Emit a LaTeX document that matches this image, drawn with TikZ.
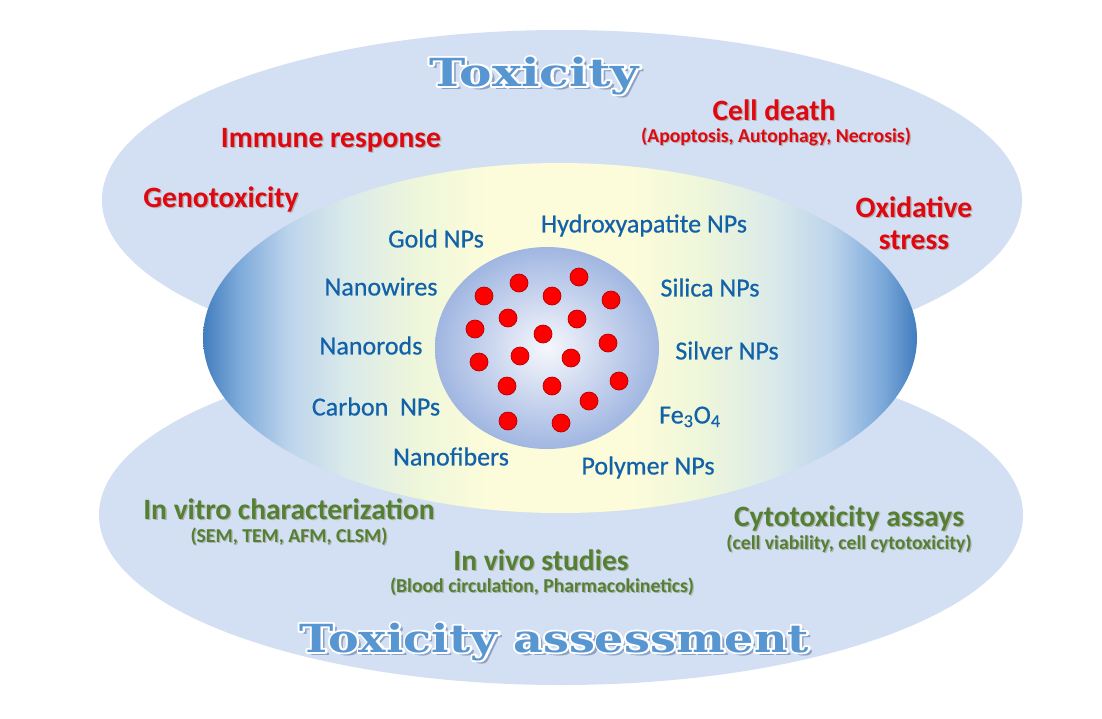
\documentclass[tikz,border=0pt]{standalone}
\usepackage{fontspec}
\setmainfont{Carlito}
\newfontfamily\titrefont{DejaVu Serif}
\newfontfamily\nanofont{Carlito}[FakeBold=0.6]
\usepackage{graphicx}

\definecolor{fondbleu}{RGB}{211,223,242}
\definecolor{rouge}{RGB}{224,8,16}
\definecolor{vert}{RGB}{84,128,52}
\definecolor{bleutxt}{RGB}{18,98,170}
\definecolor{bleutitre}{RGB}{88,150,210}
\definecolor{ombretitre}{RGB}{140,162,196}
\definecolor{lensA}{RGB}{66,125,190}
\definecolor{lensB}{RGB}{125,170,218}
\definecolor{lensC}{RGB}{188,212,236}
\definecolor{lensD}{RGB}{218,234,234}
\definecolor{lensE}{RGB}{238,246,218}
\definecolor{lensF}{RGB}{252,252,218}
\definecolor{boulein}{RGB}{246,247,252}
\definecolor{bouleout}{RGB}{160,182,225}

\pgfdeclarehorizontalshading{lentille}{100bp}{color(0bp)=(lensA); color(25bp)=(lensA); color(27.5bp)=(lensB); color(31bp)=(lensC); color(35bp)=(lensD); color(40bp)=(lensE); color(45bp)=(lensF); color(55bp)=(lensF); color(60bp)=(lensE); color(65bp)=(lensD); color(69bp)=(lensC); color(72.5bp)=(lensB); color(75bp)=(lensA); color(100bp)=(lensA)}

% ombre portee du texte
\newcommand{\omb}[1]{\rlap{\hspace{.9pt}\raisebox{-.9pt}{\color{black!30}#1}}#1}
% titre : ombre, contour blanc (trait seul), puis le texte plein
\newcommand{\traitBlanc}{\special{pdf:literal direct 1 1 1 RG 1 j 2.6 w 1 Tr}}
\newcommand{\finTrait}{\special{pdf:literal direct 0 Tr}}
\newcommand{\titre}[2][1.19]{\scalebox{#1}[1]{\rlap{\hspace{2.4pt}\raisebox{-2.4pt}{\color{ombretitre}#2}}\rlap{\traitBlanc#2\finTrait}#2}}

\tikzset{
	texte/.style={inner sep=0pt, text depth=0pt},
	effet/.style={texte, text=rouge, font=\bfseries\fontsize{21}{25}\selectfont, text height=13.5pt},
	effetpetit/.style={texte, text=rouge, font=\bfseries\fontsize{14}{17}\selectfont, text height=9pt},
	methode/.style={effet, text=vert},
	methodepetit/.style={effetpetit, text=vert},
	nano/.style={texte, text=bleutxt, font=\nanofont\fontsize{18.5}{22}\selectfont, text height=12pt},
	grandtitre/.style={texte, text=bleutitre, font=\titrefont\bfseries\fontsize{27.5}{30}\selectfont, text height=20pt},
	bille/.style={fill=red, draw=red!70!black, line width=.5pt}
}

\begin{document}
\begin{tikzpicture}[x=0.025cm,y=-0.025cm]
	\useasboundingbox[fill=white] (0,0) rectangle (1102,718);

	% les deux grandes ellipses
	\fill[fondbleu] (562,200) ellipse (460 and 170);
	\fill[fondbleu] (561,515) ellipse (462 and 170);

	% la lentille du milieu
	\shade[shading=lentille] (560,338) ellipse (357 and 175);

	% la boule de nanoparticules
	\shade[inner color=boulein, outer color=bouleout] (547,348) ellipse (112 and 101);
	\foreach \x/\y in {519/283, 579/277, 484/296, 552/296, 611/300, 508/318, 577/319,
		475/329, 543/334, 608/343, 479/362, 520/356, 571/358, 619/381, 507/386,
		552/386, 589/401, 508/421, 561/423}
		\fill[bille] (\x,\y) circle (9);

	% titres
	\node[grandtitre] (tox) at (534,72) {\titre[1.26]{Toxicity}};
	\node[grandtitre] (evaltox) at (554,638) {\titre{Toxicity assessment}};

	% effets toxiques
	\node[effet] (immun) at (331,138) {\omb{Immune response}};
	\node[effet] (geno) at (221,198) {\omb{Genotoxicity}};
	\node[effet] (mort) at (774,111) {\omb{Cell death}};
	\node[effetpetit] (mortdet) at (776,136) {\omb{(Apoptosis, Autophagy, Necrosis)}};
	\node[effet] (oxy) at (914,208) {\omb{Oxidative}};
	\node[effet] (stress) at (914,240) {\omb{stress}};

	% les nanomateriaux
	\node[nano] (gold) at (436,239) {Gold NPs};
	\node[nano] (hydroxy) at (644,224) {Hydroxyapatite NPs};
	\node[nano] (wires) at (381,287) {Nanowires};
	\node[nano] (silica) at (710,288) {Silica NPs};
	\node[nano] (rods) at (371,346) {Nanorods};
	\node[nano] (silver) at (727,351) {Silver NPs};
	\node[nano] (carbon) at (376,407) {Carbon\ \ NPs};
	\node[nano] (fe) at (690,415) {Fe\textsubscript{3}O\textsubscript{4}};
	\node[nano] (fibers) at (451,457) {Nanofibers};
	\node[nano] (polymer) at (648,466) {Polymer NPs};

	% evaluation
	\node[methode] (vitro) at (289,510) {\omb{In vitro characterization}};
	\node[methodepetit] (vitrodet) at (289,536) {\omb{(SEM, TEM, AFM, CLSM)}};
	\node[methode] (vivo) at (541,561) {\omb{In vivo studies}};
	\node[methodepetit] (vivodet) at (542,586) {\omb{(Blood circulation, Pharmacokinetics)}};
	\node[methode] (cyto) at (849,517) {\omb{Cytotoxicity assays}};
	\node[methodepetit] (cytodet) at (849,543) {\omb{(cell viability, cell cytotoxicity)}};
\end{tikzpicture}
\end{document}
